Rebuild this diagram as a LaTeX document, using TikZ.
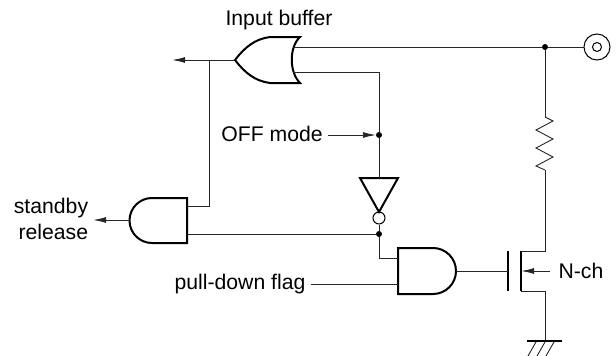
\documentclass[tikz,border=0pt]{standalone}
\usepackage{fontspec}
\setmainfont{Liberation Sans}
\usetikzlibrary{arrows.meta,calc}
\begin{document}
\begin{tikzpicture}
  [x=1pt,y=-1pt,
   point/.style={circle,fill=black,inner sep=0pt,minimum size=6pt},
   pin/.style={inner sep=0pt,minimum size=0pt},
   lbl/.style={inner sep=0pt,font=\fontsize{21.2}{26}\selectfont},
   gate/.style={line width=2pt,line join=miter},
   wire/.style={line width=0.9pt,black!85},
   arrowwire/.style={wire,-{Latex[length=13pt,width=6pt]}}]
  \useasboundingbox (0,0) rectangle (616,356);

  % gates
  \draw [gate] (300,37) .. controls (289,47) and (289,72) .. (300,83)
    -- (270,83) .. controls (255,81) and (245,73) .. (235,60)
    .. controls (245,47) and (255,39) .. (270,37) -- cycle;
  \draw [gate] (187,198) -- (152,198) arc (-90:-270:22.5) -- (187,243) -- cycle;
  \draw [gate] (398,248) -- (433,248) arc (-90:90:23) -- (398,294) -- cycle;
  \draw [gate] (360,178) -- (398,178) -- (379,212) -- cycle;
  \node (bubble) at (379,218) [circle,draw,line width=1pt,inner sep=0pt,minimum size=12pt] {};

  % pins
  \node (oratop) at (293,47) [pin] {};
  \node (orabot) at (293,72) [pin] {};
  \node (orout) at (235,60) [pin] {};
  \node (buffend) at (172,60) [pin] {};
  \node (sbin) at (188,206) [pin] {};
  \node (sblow) at (188,234) [pin] {};
  \node (sbout) at (129,220) [pin] {};
  \node (sbend) at (93,220) [pin] {};
  \node (andup) at (398,258) [pin] {};
  \node (andlow) at (398,284) [pin] {};
  \node (andout) at (456,271) [pin] {};
  \node (invtop) at (379,178) [pin] {};
  \node (drain) at (521,251) [pin] {};
  \node (source) at (521,291) [pin] {};
  \node (gnd) at (545,341) [pin] {};
  \node (restop) at (545,117) [pin] {};
  \node (resbot) at (545,170) [pin] {};

  \node (tap) at (209,60) [pin] {};
  \node (top) at (545,47) [point] {};
  \node (offdot) at (379,135) [point] {};
  \node (lowdot) at (379,234) [point] {};

  % terminal
  \node (pad) at (597,47) [circle,draw,line width=1pt,inner sep=0pt,minimum size=26pt] {};
  \node (padin) at (597,47) [circle,draw,line width=1pt,inner sep=0pt,minimum size=9pt] {};

  % mosfet
  \node (gatebar) at (508,271) [pin,minimum width=0pt,minimum height=40pt] {};
  \node (chan) at (521,271) [pin,minimum height=40pt] {};
  \draw [gate] (gatebar.north) -- (gatebar.south);
  \draw [gate] (chan.north) -- (chan.south);

  % labels
  \node (inlbl) at (279,20) [lbl] {Input buffer};
  \node (offlbl) at (272,134) [lbl] {OFF mode};
  \node (sblbl) at (51,219) [lbl,align=right] {standby\\release};
  \node (pdlbl) at (240,284) [lbl] {pull-down flag};
  \node (nlbl) at (581,271) [lbl] {N-ch};

  % wires
  \draw [wire] (oratop) -- (top) -- (pad);
  \draw [wire] (orabot) -| (offdot);
  \draw [wire] (offdot) -- (invtop);
  \draw [arrowwire] (orout) -- (buffend);
  \draw [wire] (tap) |- (sbin);
  \draw [arrowwire] (sbout) -- (sbend);
  \draw [wire] (sblow) -- (lowdot);
  \draw [wire] (bubble) -- (lowdot);
  \draw [wire] (lowdot) |- (andup);
  \draw [wire] (pdlbl.east) ++(5,0) -- (andlow);
  \draw [wire] (andout) -- (gatebar);
  \draw [arrowwire] (offlbl.east) ++(5,1) -- (offdot);
  \draw [wire] (top) -- (restop);
  \draw [wire] (restop) -- ++(8,4) -- ++(-17,9) -- ++(17,9) -- ++(-17,9)
    -- ++(17,9) -- ++(-17,9) -- (resbot);
  \draw [wire] (resbot) |- (drain);
  \draw [wire] (source) -| (gnd);
  \draw [arrowwire] (nlbl.west) ++(-8,0) -- (chan);

  % ground
  \draw [gate] (gnd) ++(-18,0) -- ++(35,0);
  \foreach \i in {0,1,2}
    \draw [wire] ($(gnd)+(-9+\i*9,1)$) -- ++(-8,14);
\end{tikzpicture}
\end{document}
